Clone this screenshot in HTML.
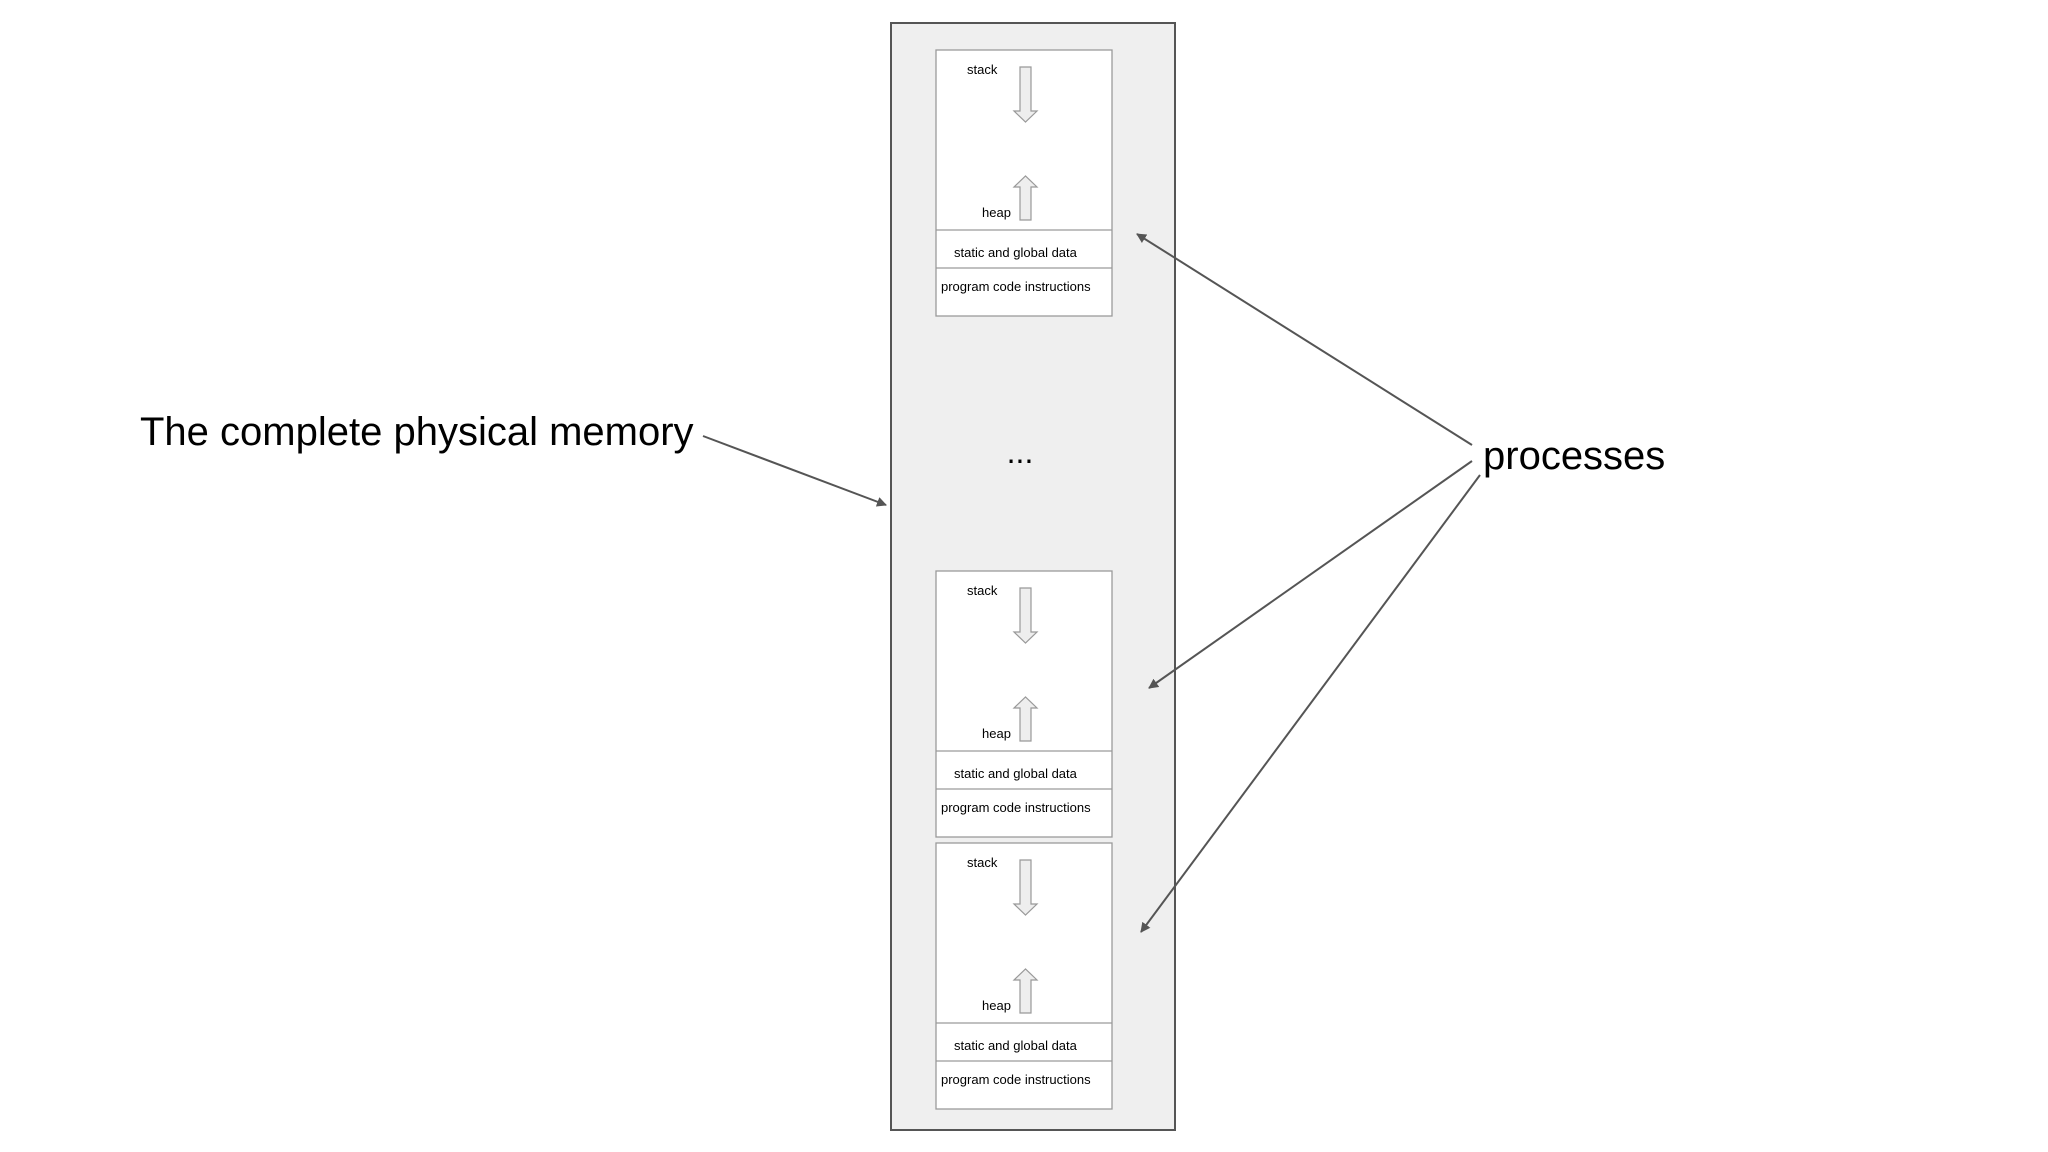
<!DOCTYPE html>
<html><head><meta charset="utf-8"><style>
html,body{margin:0;padding:0;background:#fff;}
svg{display:block;}
text{font-family:"Liberation Sans",Arial,sans-serif;fill:#000;}
</style></head><body>
<svg width="2048" height="1152" viewBox="0 0 2048 1152" xmlns="http://www.w3.org/2000/svg">
<defs>
<marker id="ah" markerWidth="10" markerHeight="10" refX="9" refY="5" orient="auto" markerUnits="userSpaceOnUse">
<path d="M0,0 L10,5 L0,10 Z" fill="#555"/>
</marker>
<g id="proc">
<rect x="0" y="0" width="176" height="266" fill="#fff" stroke="#9a9a9a" stroke-width="1.3"/>
<line x1="0" y1="180" x2="176" y2="180" stroke="#9a9a9a" stroke-width="1.3"/>
<line x1="0" y1="218" x2="176" y2="218" stroke="#9a9a9a" stroke-width="1.3"/>
<text x="31" y="24" font-size="13">stack</text>
<text x="46" y="167" font-size="13">heap</text>
<text x="18" y="207" font-size="13">static and global data</text>
<text x="5" y="241" font-size="13">program code instructions</text>
<path d="M84,17 L95,17 L95,61 L101,61 L89.5,72 L78,61 L84,61 Z" fill="#eee" stroke="#999" stroke-width="1.2"/>
<path d="M84,170 L95,170 L95,137 L101,137 L89.5,126 L78,137 L84,137 Z" fill="#eee" stroke="#999" stroke-width="1.2"/>
</g>
</defs>
<rect x="891" y="23" width="284" height="1107" fill="#efefef" stroke="#555" stroke-width="2"/>
<use href="#proc" x="936" y="50"/>
<use href="#proc" x="936" y="571"/>
<use href="#proc" x="936" y="843"/>
<text x="1020" y="463" font-size="32" text-anchor="middle">...</text>
<text x="140" y="445" font-size="40">The complete physical memory</text>
<text x="1483" y="469" font-size="40">processes</text>
<g stroke="#555" stroke-width="2" fill="none">
<line x1="703" y1="436" x2="886" y2="505" marker-end="url(#ah)"/>
<line x1="1472" y1="445" x2="1137" y2="234" marker-end="url(#ah)"/>
<line x1="1472" y1="461" x2="1149" y2="688" marker-end="url(#ah)"/>
<line x1="1480" y1="475" x2="1141" y2="932" marker-end="url(#ah)"/>
</g>
</svg>
</body></html>
